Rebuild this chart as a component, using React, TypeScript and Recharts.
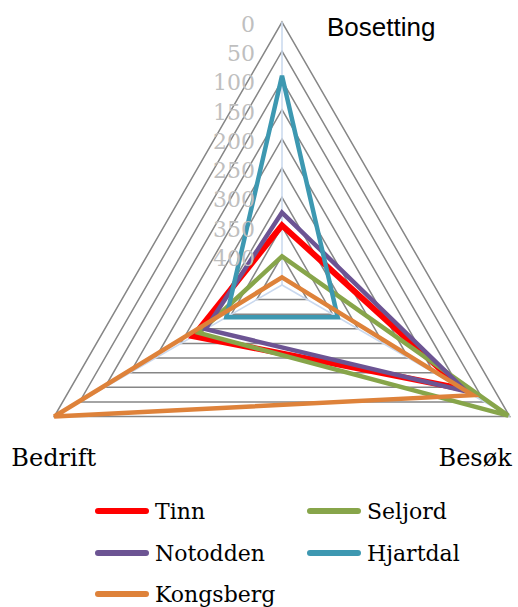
import { RadarChart, Radar, PolarGrid, PolarAngleAxis, PolarRadiusAxis, Legend } from "recharts";

const CATEGORIES = ["Bosetting", "Besøk", "Bedrift"];

const TINN = [348, 95, 275];
const SELJORD = [401, 3, 286];
const NOTODDEN = [326, 86, 299];
const HJARTDAL = [92, 340, 340];
const KONGSBERG = [437, 73, 0];

const RADIUS_TICKS = [0, 50, 100, 150, 200, 250, 300, 350, 400, 450];

const SERIES = [
  { key: "Tinn", values: TINN, color: "#FF0000", width: 6 },
  { key: "Seljord", values: SELJORD, color: "#87A54A", width: 4.5 },
  { key: "Notodden", values: NOTODDEN, color: "#6C5493", width: 4.5 },
  { key: "Hjartdal", values: HJARTDAL, color: "#3D98B1", width: 4.5 },
  { key: "Kongsberg", values: KONGSBERG, color: "#DE823A", width: 4.5 },
];

const data = CATEGORIES.map((name, i) => ({
  name,
  ...Object.fromEntries(SERIES.map((s) => [s.key, s.values[i]])),
}));

const SERIF = "'DejaVu Serif', serif";

// label offsets from the vertex the axis hands us
const ANGLE_LABEL: Record<string, { dx: number; dy: number; anchor: string; font: string; size: number }> = {
  Bosetting: { dx: 45, dy: 22, anchor: "start", font: "'Liberation Sans', sans-serif", size: 26 },
  Besøk: { dx: -5, dy: 45, anchor: "end", font: SERIF, size: 24 },
  Bedrift: { dx: -36, dy: 45, anchor: "start", font: SERIF, size: 24 },
};

const AngleTick = ({ x, y, payload }: any) => {
  const cfg = ANGLE_LABEL[payload.value];
  return (
    <text x={x + cfg.dx} y={y + cfg.dy} textAnchor={cfg.anchor} fill="#000" fontSize={cfg.size} fontFamily={cfg.font}>
      {payload.value}
    </text>
  );
};

const RadiusTick = ({ x, y, payload }: any) => {
  if (payload.value === 450) return null;
  return (
    <text x={x - 27} y={y + 10} textAnchor="end" fill="#BFBFBF" fontSize={22} fontFamily={SERIF}>
      {payload.value}
    </text>
  );
};

const LEGEND_POS = [
  { left: 95, top: 511 },
  { left: 307, top: 511 },
  { left: 95, top: 553 },
  { left: 307, top: 553 },
  { left: 95, top: 594 },
];

const LegendContent = () => (
  <div style={{ position: "relative", width: 518, height: 0 }}>
    {SERIES.map((s, i) => (
      <div
        key={s.key}
        style={{ position: "absolute", left: LEGEND_POS[i].left, top: LEGEND_POS[i].top - 490 - 16, height: 32, display: "flex", alignItems: "center" }}
      >
        <div style={{ width: 54, height: 6, borderRadius: 3, background: s.color, marginRight: 6 }} />
        <span style={{ fontFamily: SERIF, fontSize: 22, color: "#000", whiteSpace: "nowrap" }}>{s.key}</span>
      </div>
    ))}
  </div>
);

export default function App() {
  return (
    <div style={{ position: "absolute", left: 0, top: 0, width: 518, height: 607, background: "#fff" }}>
      <RadarChart width={518} height={607} data={data} cx={282} cy={285} outerRadius={263} startAngle={90} endAngle={-270}>
        <PolarGrid gridType="polygon" radialLines={false} stroke="#868686" strokeWidth={1.5} />
        <PolarGrid gridType="polygon" polarRadius={[0.01]} stroke="#C9D8EE" strokeWidth={1.5} />
        <PolarAngleAxis dataKey="name" tick={<AngleTick />} tickLine={false} axisLine={false} />
        <PolarRadiusAxis
          angle={90}
          domain={[0, 450]}
          ticks={RADIUS_TICKS}
          tickCount={10}
          reversed
          axisLine={false}
          tick={<RadiusTick />}
        />
        {SERIES.map((s) => (
          <Radar
            key={s.key}
            name={s.key}
            dataKey={s.key}
            stroke={s.color}
            strokeWidth={s.width}
            fill="none"
            fillOpacity={0}
            dot={false}
            isAnimationActive={false}
          />
        ))}
        <Legend
          content={<LegendContent />}
          wrapperStyle={{ position: "absolute", left: 0, top: 490, width: 518 }}
        />
      </RadarChart>
    </div>
  );
}
